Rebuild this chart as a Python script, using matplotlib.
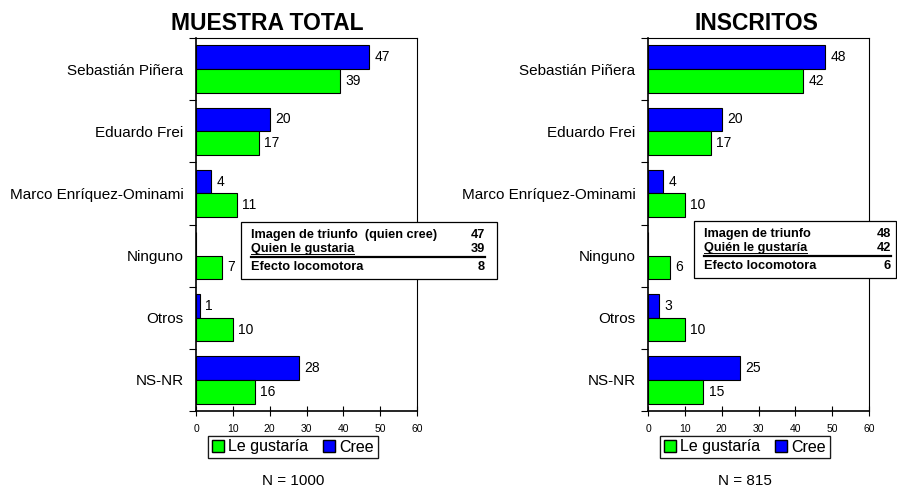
import matplotlib
matplotlib.use("Agg")
import matplotlib.pyplot as plt
import numpy as np
from matplotlib.patches import Patch, Rectangle
from matplotlib.lines import Line2D

plt.rcParams['font.family'] = ['Liberation Sans', 'DejaVu Sans']

categories = ["Sebastián Piñera", "Eduardo Frei", "Marco Enríquez-Ominami",
              "Ninguno", "Otros", "NS-NR"]

total_cree = [47, 20, 4, 0, 1, 28]
total_gustaria = [39, 17, 11, 7, 10, 16]
inscritos_cree = [48, 20, 4, 0, 3, 25]
inscritos_gustaria = [42, 17, 10, 6, 10, 15]

titles = ["MUESTRA TOTAL", "INSCRITOS"]
n_labels = ["N = 1000", "N = 815"]
box_rows_total = [("Imagen de triunfo  (quien cree)", "47"),
                  ("Quien le gustaria", "39"),
                  ("Efecto locomotora", "8")]
box_rows_inscritos = [("Imagen de triunfo", "48"),
                      ("Quién le gustaría", "42"),
                      ("Efecto locomotora", "6")]
xticks = [0, 10, 20, 30, 40, 50, 60]

W, H = 897, 488
fig = plt.figure(figsize=(W / 100, H / 100), dpi=100)
renderer = fig.canvas.get_renderer()


def fx(px):
    return px / W


def fy(py):
    return 1 - py / H


def draw_panel(left_px, cree, gustaria):
    ax = fig.add_axes([fx(left_px), fy(411), 221 / W, 373 / H])
    y = np.arange(len(categories))
    h = 0.38
    ax.barh(y - h / 2, cree, height=h, color="#0000FF", edgecolor="black", linewidth=0.8)
    ax.barh(y + h / 2, gustaria, height=h, color="#00FF00", edgecolor="black", linewidth=0.8)
    for yy, v in zip(y - h / 2, cree):
        if v:
            ax.annotate(str(v), (v, yy), xytext=(4, 0), textcoords="offset points",
                        va="center", ha="left", fontsize=10)
    for yy, v in zip(y + h / 2, gustaria):
        ax.annotate(str(v), (v, yy), xytext=(4, 0), textcoords="offset points",
                    va="center", ha="left", fontsize=10)
    ax.set_xlim(0, 60)
    ax.set_ylim(len(categories) - 0.5, -0.5)
    ax.set_xticks(xticks)
    ax.set_xticklabels([str(t) for t in xticks], fontsize=7.5)
    ax.set_yticks(np.arange(len(categories) + 1) - 0.5)
    ax.set_yticklabels([])
    ax.set_yticks(y, minor=True)
    ax.set_yticklabels(categories, minor=True, fontsize=11)
    ax.tick_params(axis="y", which="minor", length=0, pad=9)
    ax.tick_params(axis="y", which="major", length=5, width=0.8, direction="out")
    ax.tick_params(axis="x", length=7, width=0.8, direction="inout", pad=6)
    for s in ax.spines.values():
        s.set_linewidth(0.8)
    ax.spines["left"].set_linewidth(1.2)
    ax.spines["bottom"].set_linewidth(1.2)
    return ax


def draw_box(x0, y0, x1, y1, text_x, num_x, line_y, rows, row_y):
    fig.patches.append(Rectangle((fx(x0), fy(y1)), fx(x1) - fx(x0), fy(y0) - fy(y1),
                                 transform=fig.transFigure, facecolor="white",
                                 edgecolor="black", linewidth=0.9, zorder=5))
    texts = []
    for (label, num), ry in zip(rows, row_y):
        t = fig.text(fx(text_x), fy(ry), label, fontsize=9.2, fontweight="bold",
                     ha="left", va="center", zorder=6)
        texts.append(t)
        fig.text(fx(num_x), fy(ry), num, fontsize=9.2, fontweight="bold",
                 ha="right", va="center", zorder=6)
    fig.add_artist(Line2D([fx(text_x), fx(num_x)], [fy(line_y), fy(line_y)],
                          color="black", linewidth=1.6, zorder=6))
    # underline of the second row label
    ext = texts[1].get_window_extent(renderer)
    fig.add_artist(Line2D([fx(text_x), fx(text_x + ext.width)],
                          [fy(line_y - 3), fy(line_y - 3)],
                          color="black", linewidth=0.7, zorder=6))


draw_panel(196, total_cree, total_gustaria)
draw_panel(648, inscritos_cree, inscritos_gustaria)

fig.text(fx(267), fy(23), titles[0], fontsize=16.5, fontweight="bold", ha="center", va="center")
fig.text(fx(756), fy(23), titles[1], fontsize=16.5, fontweight="bold", ha="center", va="center")

draw_box(241, 222, 497, 279, 251, 485, 257, box_rows_total, [235, 249, 267])
draw_box(694, 221, 896, 278, 704, 891, 256, box_rows_inscritos, [234, 248, 266])

handles = [Patch(facecolor="#00FF00", edgecolor="black", label="Le gustaría"),
           Patch(facecolor="#0000FF", edgecolor="black", label="Cree")]
for cx, nl in [(293, n_labels[0]), (745, n_labels[1])]:
    leg = fig.legend(handles=handles, loc="center", bbox_to_anchor=(fx(cx), fy(447)),
                     ncol=2, fontsize=11.5, frameon=True, fancybox=False,
                     handlelength=0.75, handleheight=0.75, handletextpad=0.3,
                     columnspacing=0.9, borderpad=0.2, borderaxespad=0)
    leg.get_frame().set_edgecolor("black")
    leg.get_frame().set_linewidth(0.9)
    fig.add_artist(leg)
    fig.text(fx(cx), fy(481), nl, fontsize=11, ha="center", va="center")

fig.savefig("out.png", dpi=100)
